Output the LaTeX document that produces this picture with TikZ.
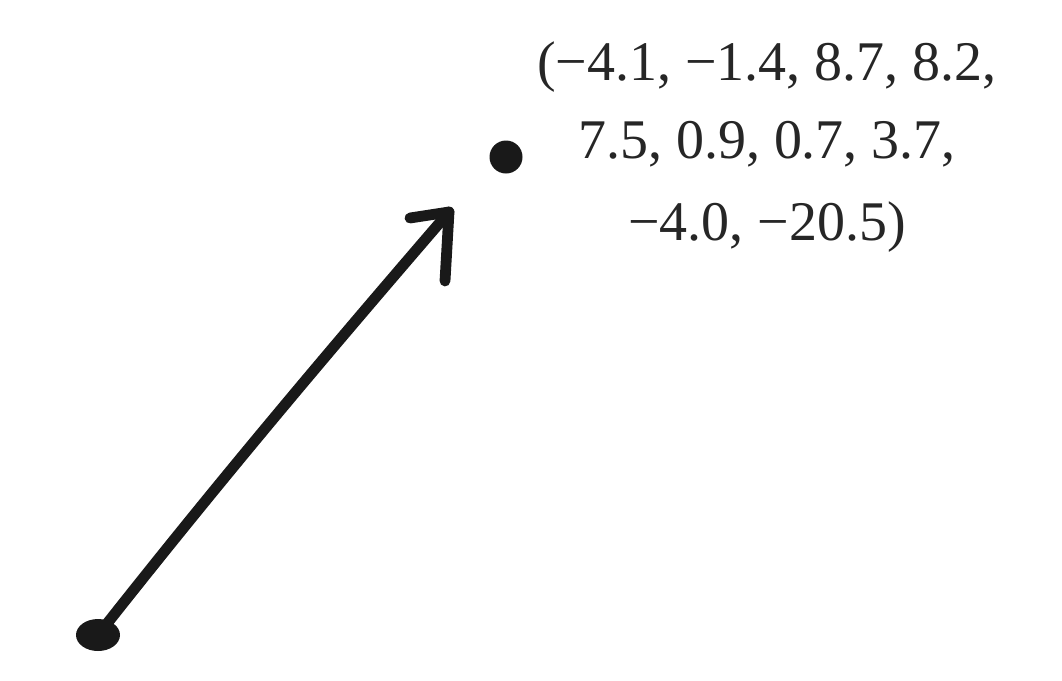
\documentclass[tikz,border=0pt]{standalone}
\usepackage{fontspec}
\setmainfont{Liberation Serif}
\usetikzlibrary{shapes.geometric}
\begin{document}
\begin{tikzpicture}[x=0.025cm,y=-0.025cm,
  dotnode/.style={fill=black!90, draw=none, inner sep=0pt},
  stroke/.style={line width=0.27cm, draw=black!90, line cap=round, line join=round},
  lbl/.style={anchor=base, inner sep=0pt, font=\fontsize{39.8pt}{56pt}\selectfont, text=black!85}]
\useasboundingbox (0,0) rectangle (1062,680);
\fill[white] (0,0) rectangle (1062,680);
\node[dotnode, ellipse, minimum width=44*0.025cm, minimum height=32*0.025cm] (a) at (98,635) {};
\node[dotnode, circle, minimum size=33*0.025cm] (p) at (506,157) {};
\coordinate (tip) at (449,212);
\coordinate (barbL) at (410,218);
\coordinate (barbD) at (445,281);
\draw[stroke] (a.center) .. controls (220,480) and (330,350) .. (tip);
\draw[stroke] (barbL) -- (tip) -- (barbD);
\node[lbl] (t1) at (767,80) {(−4.1, −1.4, 8.7, 8.2,};
\node[lbl] (t2) at (767,158) {7.5, 0.9, 0.7, 3.7,};
\node[lbl] (t3) at (767,240) {−4.0, −20.5)};
\end{tikzpicture}
\end{document}
